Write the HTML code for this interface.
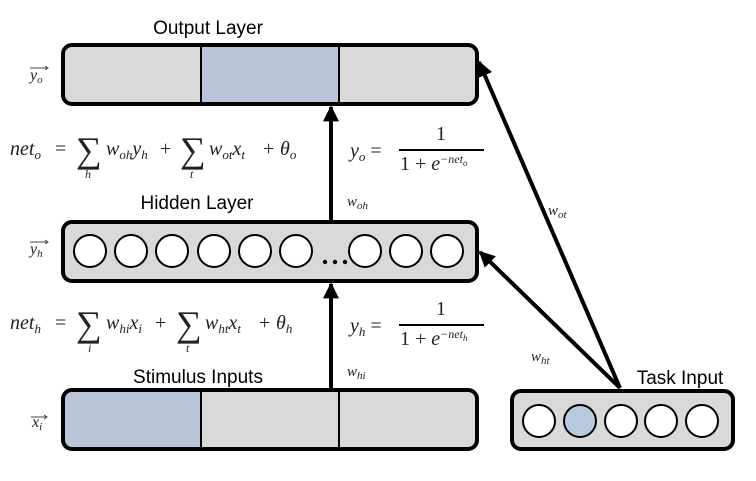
<!DOCTYPE html>
<html><head><style>body{margin:0;background:#fff}svg{display:block}</style></head><body>
<svg width="756" height="481" viewBox="0 0 756 481" xmlns="http://www.w3.org/2000/svg">
<defs><marker id="a" viewBox="0 0 10 10" refX="9" refY="5" markerWidth="4" markerHeight="4" orient="auto" markerUnits="strokeWidth"><path d="M0,0L10,5L0,10z" fill="#000"/></marker></defs>
<g font-family="Liberation Sans, sans-serif" font-size="19" fill="#000">
<text x="208" y="34" text-anchor="middle">Output Layer</text>
<text x="197" y="209" text-anchor="middle">Hidden  Layer</text>
<text x="198" y="383" text-anchor="middle">Stimulus Inputs</text>
<text x="680" y="384" text-anchor="middle">Task Input</text>
</g>
<rect x="63" y="45" width="414" height="59" rx="9" fill="#d9d9d9"/>
<rect x="201" y="46" width="138" height="57" fill="#b9c6d9"/>
<line x1="201" y1="45" x2="201" y2="104" stroke="#000" stroke-width="2"/>
<line x1="339" y1="45" x2="339" y2="104" stroke="#000" stroke-width="2"/>
<rect x="63" y="45" width="414" height="59" rx="9" fill="none" stroke="#000" stroke-width="4"/>
<rect x="63" y="222" width="414" height="59" rx="9" fill="#d9d9d9" stroke="#000" stroke-width="4"/>
<g fill="#fff" stroke="#000" stroke-width="2">
<circle cx="90" cy="251" r="16"/><circle cx="131" cy="251" r="16"/><circle cx="172" cy="251" r="16"/><circle cx="214" cy="251" r="16"/><circle cx="255" cy="251" r="16"/><circle cx="296" cy="251" r="16"/><circle cx="365" cy="251" r="16"/><circle cx="406" cy="251" r="16"/><circle cx="447" cy="251" r="16"/>
</g>
<g fill="#000"><circle cx="325" cy="262" r="2.2"/><circle cx="335" cy="262" r="2.2"/><circle cx="345" cy="262" r="2.2"/></g>
<rect x="63" y="390" width="414" height="59" rx="9" fill="#d9d9d9"/>
<rect x="65" y="392" width="136" height="55" fill="#b9c6d9"/>
<line x1="201" y1="390" x2="201" y2="449" stroke="#000" stroke-width="2"/>
<line x1="339" y1="390" x2="339" y2="449" stroke="#000" stroke-width="2"/>
<rect x="63" y="390" width="414" height="59" rx="9" fill="none" stroke="#000" stroke-width="4"/>
<rect x="512" y="391" width="221" height="58" rx="9" fill="#d9d9d9" stroke="#000" stroke-width="4"/>
<g stroke="#000" stroke-width="2" fill="#fff">
<circle cx="539" cy="421" r="16"/><circle cx="580" cy="421" r="16" fill="#b9c9e0"/><circle cx="621" cy="421" r="16"/><circle cx="661" cy="421" r="16"/><circle cx="702" cy="421" r="16"/>
</g>
<g stroke="#000" stroke-width="4" marker-end="url(#a)">
<line x1="331" y1="390" x2="331" y2="284"/>
<line x1="331" y1="222" x2="331" y2="107"/>
<line x1="620" y1="388" x2="479" y2="62"/>
<line x1="620" y1="388" x2="480" y2="252"/>
</g>
<g font-family="Liberation Serif, serif" font-style="italic" font-size="20" fill="#222">
<text x="10" y="155">net<tspan font-size="13" dy="4">o</tspan></text>
<text x="55" y="155" font-style="normal">=</text>
<text x="76" y="162" font-style="normal" font-size="36">∑</text>
<text x="106" y="155">w<tspan font-size="13" dy="4">oh</tspan><tspan dy="-4">y</tspan><tspan font-size="13" dy="4">h</tspan></text>
<text x="160" y="155" font-style="normal">+</text>
<text x="180" y="162" font-style="normal" font-size="36">∑</text>
<text x="209" y="155">w<tspan font-size="13" dy="4">ot</tspan><tspan dy="-4">x</tspan><tspan font-size="13" dy="4">t</tspan></text>
<text x="263" y="155" font-style="normal">+</text>
<text x="280" y="155">θ<tspan font-size="13" dy="4">o</tspan></text>
<text x="85" y="178" font-size="12">h</text><text x="190" y="178" font-size="12">t</text>
<text x="10" y="329">net<tspan font-size="13" dy="4">h</tspan></text>
<text x="55" y="329" font-style="normal">=</text>
<text x="76" y="336" font-style="normal" font-size="36">∑</text>
<text x="106" y="329">w<tspan font-size="13" dy="4">hi</tspan><tspan dy="-4">x</tspan><tspan font-size="13" dy="4">i</tspan></text>
<text x="155" y="329" font-style="normal">+</text>
<text x="176" y="336" font-style="normal" font-size="36">∑</text>
<text x="205" y="329">w<tspan font-size="13" dy="4">ht</tspan><tspan dy="-4">x</tspan><tspan font-size="13" dy="4">t</tspan></text>
<text x="259" y="329" font-style="normal">+</text>
<text x="276" y="329">θ<tspan font-size="13" dy="4">h</tspan></text>
<text x="88" y="352" font-size="12">i</text><text x="186" y="352" font-size="12">t</text>
<text x="350" y="157">y<tspan font-size="13" dy="4">o</tspan><tspan dy="-4" font-style="normal"> =</tspan></text>
<text x="441" y="140" font-style="normal" text-anchor="middle">1</text>
<text x="400" y="170"><tspan font-style="normal">1 + </tspan>e<tspan font-size="12" dy="-7">−net</tspan><tspan font-size="9" dy="3">o</tspan></text>
<text x="350" y="332">y<tspan font-size="13" dy="4">h</tspan><tspan dy="-4" font-style="normal"> =</tspan></text>
<text x="441" y="315" font-style="normal" text-anchor="middle">1</text>
<text x="400" y="345"><tspan font-style="normal">1 + </tspan>e<tspan font-size="12" dy="-7">−net</tspan><tspan font-size="9" dy="3">h</tspan></text>
<text x="347" y="206" font-size="15">w<tspan font-size="11" dy="3">oh</tspan></text>
<text x="347" y="376" font-size="15">w<tspan font-size="11" dy="3">hi</tspan></text>
<text x="548" y="215" font-size="15">w<tspan font-size="11" dy="3">ot</tspan></text>
<text x="531" y="361" font-size="15">w<tspan font-size="11" dy="3">ht</tspan></text>
<text x="30" y="80" font-size="16">y<tspan font-size="11" dy="3">o</tspan></text>
<text x="30" y="254" font-size="16">y<tspan font-size="11" dy="3">h</tspan></text>
<text x="32" y="427" font-size="16">x<tspan font-size="11" dy="3">i</tspan></text>
</g>
<g stroke="#444" stroke-width="1" fill="none">
<path d="M30 68H48M45 66L48 68L45 70"/><path d="M30 242H48M45 240L48 242L45 244"/><path d="M31 417H47M44 415L47 417L44 419"/>
<line x1="399" y1="150" x2="484" y2="150" stroke="#000" stroke-width="2"/>
<line x1="399" y1="325" x2="484" y2="325" stroke="#000" stroke-width="2"/>
</g>
</svg>
</body></html>
